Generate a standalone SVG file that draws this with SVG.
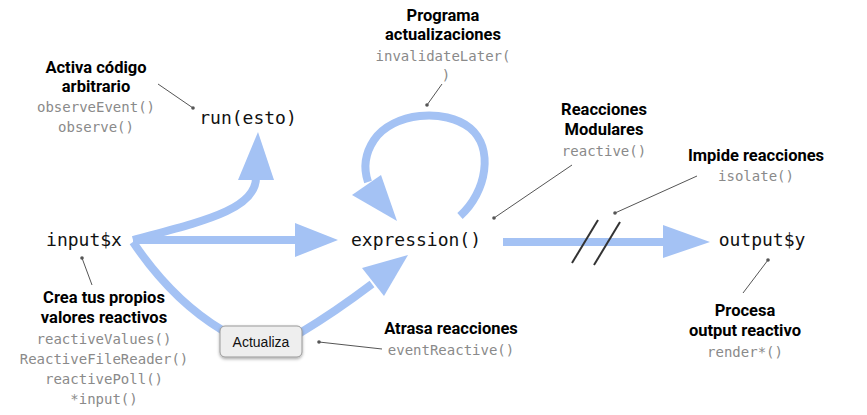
<svg xmlns="http://www.w3.org/2000/svg" width="867" height="415" viewBox="0 0 867 415">
<style>
.node{font-family:"DejaVu Sans Mono",monospace;font-size:18px;fill:#111;text-anchor:middle}
.t{font-family:Roboto,"Liberation Sans",sans-serif;font-weight:bold;font-size:16.5px;fill:#000;text-anchor:middle}
.c{font-family:"DejaVu Sans Mono",monospace;font-size:14px;fill:#8a8a8a;text-anchor:middle}
.flow{fill:none;stroke:#a4c2f4;stroke-width:8}
.head{fill:#a4c2f4}
.call{stroke:#555;stroke-width:1;fill:none}
.dot{fill:#555}
.brk{stroke:#333;stroke-width:2}
</style>
<defs>
<filter id="sh" x="-20%" y="-20%" width="140%" height="160%">
<feDropShadow dx="0" dy="1.5" stdDeviation="1.5" flood-color="#000" flood-opacity="0.35"/>
</filter>
</defs>
<rect width="867" height="415" fill="#fff"/>
<g id="connectors">
<path class="flow" d="M133,240 L300,240"/>
<polygon class="head" points="295,223 295,257 338,240"/>
<path class="flow" d="M133,240 C200,222 258,210 256,176"/>
<polygon class="head" points="238,180 274,180 258,132"/>
<path class="flow" d="M133,242 Q172,300 222,330"/>
<path class="flow" d="M300,333 Q335,312 372,284"/>
<polygon class="head" points="362,268 384,296 408,255"/>
<path class="flow" d="M460,216 C487,192 494,148 470,128 C445,108 393,112 374,140 C364,155 364,170 368,182"/>
<polygon class="head" points="352,195 381,175 397,221"/>
<path class="flow" d="M503,242 L666,242"/>
<polygon class="head" points="663,225 663,258 710,242"/>
<line class="brk" x1="598" y1="220" x2="572" y2="263"/>
<line class="brk" x1="620" y1="222" x2="594" y2="265"/>
<line class="call" x1="158" y1="84" x2="193" y2="108"/><circle class="dot" cx="193" cy="108" r="1.8"/>
<line class="call" x1="442" y1="84" x2="427" y2="105"/><circle class="dot" cx="427" cy="105" r="1.8"/>
<line class="call" x1="572" y1="165" x2="494" y2="218"/><circle class="dot" cx="494" cy="218" r="1.8"/>
<line class="call" x1="697" y1="176" x2="615" y2="213"/><circle class="dot" cx="615" cy="213" r="1.8"/>
<line class="call" x1="768" y1="260" x2="743" y2="293"/><circle class="dot" cx="768" cy="260" r="1.8"/>
<line class="call" x1="82" y1="258" x2="92" y2="285"/><circle class="dot" cx="82" cy="258" r="1.8"/>
<line class="call" x1="319" y1="342" x2="382" y2="349"/><circle class="dot" cx="319" cy="342" r="1.8"/>
</g>
<g id="input">
<text class="node" x="84" y="246">input$x</text>
</g>
<g id="run">
<text class="node" x="248" y="124">run(esto)</text>
</g>
<g id="expression">
<text class="node" x="416" y="246">expression()</text>
</g>
<g id="output">
<text class="node" x="762" y="246">output$y</text>
</g>
<g id="actualiza">
<rect x="220" y="326" width="82" height="31" rx="5" fill="#eeeeee" stroke="#999" stroke-width="1" filter="url(#sh)"/>
<text x="261" y="347" font-family="'Liberation Sans',Arial,sans-serif" font-size="14" fill="#111" text-anchor="middle">Actualiza</text>
</g>
<g id="note-activa">
<text class="t" x="96" y="73">Activa código</text>
<text class="t" x="96" y="92">arbitrario</text>
<text class="c" x="96" y="112">observeEvent()</text>
<text class="c" x="96" y="132">observe()</text>
</g>
<g id="note-programa">
<text class="t" x="443" y="21">Programa</text>
<text class="t" x="443" y="40">actualizaciones</text>
<text class="c" x="443" y="61">invalidateLater(</text>
<text class="c" x="446" y="80">)</text>
</g>
<g id="note-reactive">
<text class="t" x="604" y="115">Reacciones</text>
<text class="t" x="604" y="135">Modulares</text>
<text class="c" x="604" y="156">reactive()</text>
</g>
<g id="note-isolate">
<text class="t" x="756" y="161">Impide reacciones</text>
<text class="c" x="756" y="181">isolate()</text>
</g>
<g id="note-crea">
<text class="t" x="104" y="303">Crea tus propios</text>
<text class="t" x="104" y="323">valores reactivos</text>
<text class="c" x="104" y="344">reactiveValues()</text>
<text class="c" x="104" y="364">ReactiveFileReader()</text>
<text class="c" x="104" y="384">reactivePoll()</text>
<text class="c" x="104" y="404">*input()</text>
</g>
<g id="note-atrasa">
<text class="t" x="451" y="334">Atrasa reacciones</text>
<text class="c" x="451" y="355">eventReactive()</text>
</g>
<g id="note-procesa">
<text class="t" x="745" y="316">Procesa</text>
<text class="t" x="745" y="336">output reactivo</text>
<text class="c" x="745" y="357">render*()</text>
</g>
</svg>
